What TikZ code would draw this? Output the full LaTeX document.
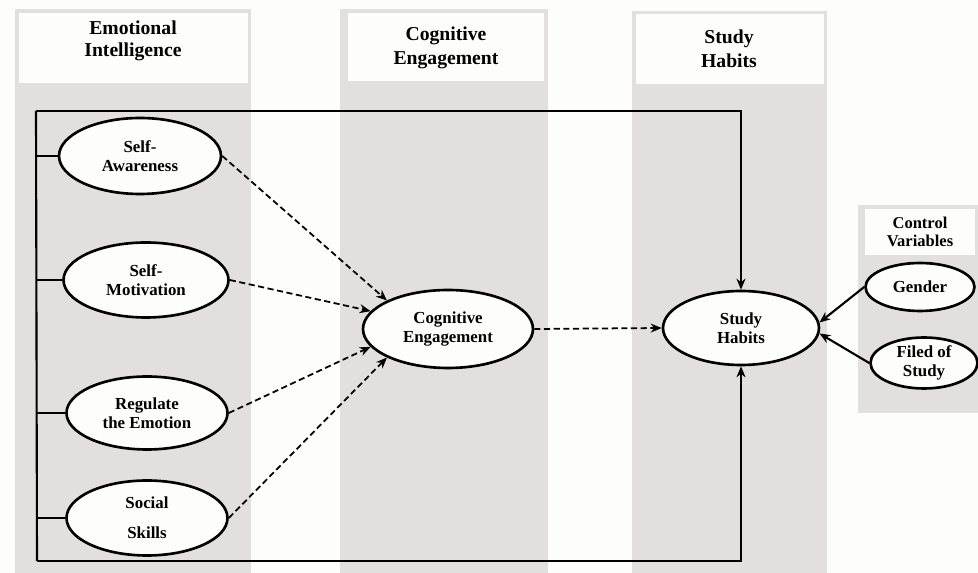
\documentclass[tikz,border=0pt]{standalone}
\usepackage{fontspec}
\setmainfont{Liberation Serif}
\usetikzlibrary{shapes.geometric,arrows.meta}
\definecolor{bandgray}{HTML}{E3DFDC}
\definecolor{paper}{HTML}{FDFDF9}
\tikzset{
  band/.style={fill=bandgray, draw=none},
  headbox/.style={rectangle, fill=paper, draw=none, inner sep=0pt},
  headtext/.style={align=center, font=\bfseries\fontsize{11.2}{12.5}\selectfont},
  construct/.style={ellipse, draw, line width=1.5pt, fill=paper, align=center,
    inner sep=0pt, font=\bfseries\fontsize{9.6}{11}\selectfont},
  link/.style={line width=1.2pt},
  solidarrow/.style={link, -{Stealth[length=2.2mm,width=1.8mm]}},
  dasharrow/.style={line width=1pt, dashed, dash pattern=on 3.5pt off 2pt,
    -{Stealth[length=2.2mm,width=1.8mm]}}
}
\begin{document}
\begin{tikzpicture}[x=0.02cm,y=-0.02cm]
  \useasboundingbox (0,0) rectangle (978,573);
  \fill[paper] (0,0) rectangle (978,573);
  % columns
  \fill[band] (15,9) rectangle (251,573);
  \fill[band] (340,9) rectangle (548,573);
  \fill[band] (632,11) rectangle (827,573);
  \fill[band] (858,205) rectangle (978,413);
  \node[headbox, minimum width=4.58cm, minimum height=1.4cm] (eibox) at (133.5,48) {};
  \node[headbox, minimum width=3.92cm, minimum height=1.36cm] (cebox) at (446,47) {};
  \node[headbox, minimum width=3.76cm, minimum height=1.4cm] (shbox) at (730,49) {};
  \node[headbox, minimum width=2.2cm, minimum height=0.92cm] (cvbox) at (920,232) {};
  \node[headtext] (eihead) at (133,41) {Emotional\\Intelligence};
  \node[headtext, font=\bfseries\fontsize{11.2}{13.5}\selectfont] (cehead) at (446,48) {Cognitive\\Engagement};
  \node[headtext, font=\bfseries\fontsize{11.2}{13.5}\selectfont] (shhead) at (729,49) {Study\\Habits};
  \node[headtext, font=\bfseries\fontsize{9.4}{10.5}\selectfont] (cvhead) at (920,232) {Control\\Variables};

  % constructs
  \node[construct, minimum width=3.24cm, minimum height=1.52cm] (sa) at (140,156) {Self-\\Awareness};
  \node[construct, minimum width=3.3cm, minimum height=1.5cm] (sm) at (146,280) {Self-\\Motivation};
  \node[construct, minimum width=3.22cm, minimum height=1.46cm] (re) at (147,413) {Regulate\\the Emotion};
  \node[construct, minimum width=3.22cm, minimum height=1.5cm] (ss) at (147,518) {Social\\[6pt]Skills};
  \node[construct, minimum width=3.4cm, minimum height=1.56cm] (ce) at (448,329) {Cognitive\\Engagement};
  \node[construct, minimum width=3.12cm, minimum height=1.48cm] (sh) at (741,328) {Study\\Habits};
  \node[construct, minimum width=2.18cm, minimum height=0.96cm] (gen) at (920,287) {Gender};
  \node[construct, minimum width=2.14cm, minimum height=1.02cm] (fos) at (924,363) {Filed of\\Study};

  % frame
  \coordinate (tl) at (36,111);
  \coordinate (bl) at (37,561);
  \draw[link] (tl) -- (bl);
  \draw[solidarrow] (tl) -| (sh);
  \draw[solidarrow] (bl) -| (sh);
  \foreach \n in {sa,sm,re,ss}
    \draw[link] (tl |- \n.west) -- (\n.west);

  % paths
  \draw[dasharrow] (sa.east) -- (ce.north west);
  \draw[dasharrow] (sm.east) -- (ce.167);
  \draw[dasharrow] (re.east) -- (ce.193);
  \draw[dasharrow] (ss.east) -- (ce.south west);
  \draw[dasharrow] (ce.east) -- (sh.west);
  \draw[solidarrow] (gen.west) -- (sh.4);
  \draw[solidarrow] (fos.west) -- (sh.-4);
\end{tikzpicture}
\end{document}
